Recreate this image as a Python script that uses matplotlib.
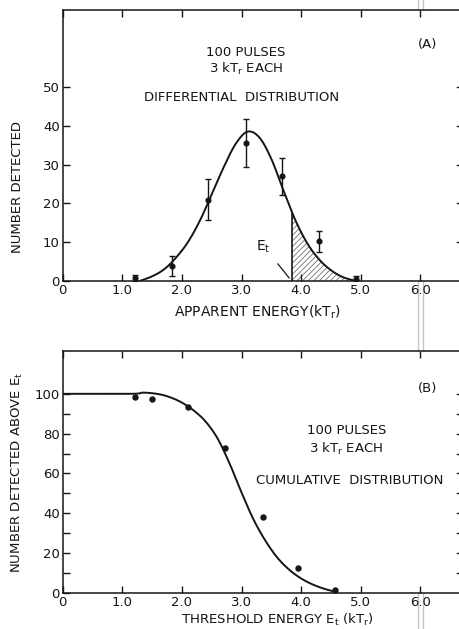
import numpy as np
import matplotlib
matplotlib.use("Agg")
import matplotlib.pyplot as plt
from matplotlib.lines import Line2D

# ---------------- data ----------------
# Panel A: differential distribution, measured points with error bars
a_x = [1.22, 1.83, 2.44, 3.07, 3.68, 4.30, 4.92]
a_y = [0.8, 3.8, 21.0, 35.5, 27.0, 10.2, 0.6]
a_err = [0.8, 2.6, 5.2, 6.2, 4.7, 2.6, 0.8]

# Panel A: fitted curve
a_curve_x = [1.29, 1.5, 1.7, 1.9, 2.1, 2.3, 2.5, 2.7, 2.9, 3.1, 3.3, 3.5, 3.7, 3.9, 4.1, 4.3, 4.5, 4.7, 4.92]
a_curve_y = [0.0, 1.2, 3.0, 6.0, 10.0, 15.5, 22.3, 29.3, 35.3, 38.5, 37.0, 31.5, 23.5, 15.8, 9.8, 5.6, 2.8, 1.0, 0.0]
threshold = 3.85

# Panel B: cumulative distribution
b_x = [1.22, 1.50, 2.10, 2.72, 3.36, 3.94, 4.57]
b_y = [98.3, 97.5, 93.5, 72.7, 38.3, 12.7, 1.5]
b_curve_x = [0.0, 1.15, 1.35, 1.6, 1.8, 2.0, 2.2, 2.4, 2.6, 2.8, 3.0, 3.2, 3.4, 3.6, 3.8, 4.0, 4.2, 4.4, 4.6]
b_curve_y = [100.0, 100.0, 100.6, 99.9, 98.3, 95.6, 91.6, 86.0, 77.5, 65.0, 50.5, 37.0, 26.3, 17.8, 11.7, 7.3, 4.2, 2.0, 0.4]

x_ticks = [0, 1, 2, 3, 4, 5, 6]
x_ticklabels = ["0", "1.0", "2.0", "3.0", "4.0", "5.0", "6.0"]
a_yticks = [0, 10, 20, 30, 40, 50]
b_yticks = [0, 20, 40, 60, 80, 100]


def smooth(xs, ys, n=24):
    """Catmull-Rom rendering of a polyline through the read points."""
    p = np.column_stack([xs, ys]).astype(float)
    p = np.vstack([p[0], p, p[-1]])
    out = []
    t = np.linspace(0, 1, n)[:, None]
    for i in range(1, len(p) - 2):
        p0, p1, p2, p3 = p[i - 1], p[i], p[i + 1], p[i + 2]
        seg = 0.5 * (2 * p1 + (-p0 + p2) * t + (2 * p0 - 5 * p1 + 4 * p2 - p3) * t ** 2
                     + (-p0 + 3 * p1 - 3 * p2 + p3) * t ** 3)
        out.append(seg if i == 1 else seg[1:])
    s = np.vstack(out)
    return s[:, 0], s[:, 1]


W, H = 459, 629
fig = plt.figure(figsize=(W / 100, H / 100), dpi=100)
plt.rcParams['font.family'] = ['DejaVu Sans']
plt.rcParams['hatch.linewidth'] = 0.6
INK = '#151515'
FS = 9.5

left_px = 62.7
ppu = 59.6
right_px = 463
xmax = (right_px - left_px) / ppu


def px_rect(l, t, r, b):
    return [l / W, 1 - b / H, (r - l) / W, (b - t) / H]


def style(ax, yticks, ymax, right_ticks):
    ax.set_xlim(0, xmax)
    ax.set_ylim(0, ymax)
    ax.set_xticks(x_ticks)
    ax.set_xticklabels(x_ticklabels)
    ax.set_yticks(yticks)
    ax.set_yticklabels([str(v) for v in yticks])
    ax.tick_params(direction='in', length=5, width=1.0, colors=INK, labelsize=FS,
                   top=True, right=False)
    ax.tick_params(axis='x', pad=2.5)
    ax.tick_params(axis='y', pad=2)
    for s in ax.spines.values():
        s.set_color(INK)
        s.set_linewidth(1.1)
    ax.spines['right'].set_visible(False)
    for v in right_ticks:
        ax.plot([xmax - 0.1, xmax], [v, v], color=INK, lw=1.0, clip_on=False)


# ---------------- Panel A ----------------
axA = fig.add_axes(px_rect(left_px, 9.5, right_px, 281))
style(axA, a_yticks, 70, [10, 20, 30, 40, 50])
cx, cy = smooth(a_curve_x, a_curve_y)
axA.plot(cx, cy, color=INK, lw=1.4)
m = cx >= threshold
yt = np.interp(threshold, cx, cy)
fx = np.concatenate([[threshold], cx[m]])
fy = np.concatenate([[yt], cy[m]])
axA.fill_between(fx, 0, fy, facecolor='none', edgecolor='#707070', hatch='//////', lw=0)
axA.plot([threshold, threshold], [0, yt], color=INK, lw=1.2)
axA.errorbar(a_x, a_y, yerr=a_err, fmt='o', ms=3.4, color=INK, ecolor=INK,
             elinewidth=1.0, capsize=2.2, capthick=1.0)
axA.annotate('', xy=(threshold - 0.02, 0.2), xytext=(3.58, 5.0),
             arrowprops=dict(arrowstyle='-', color=INK, lw=0.9))
axA.text(3.36, 8.8, r'E$_\mathregular{t}$', ha='center', va='center', fontsize=FS + 0.5, color=INK)
axA.text(3.07, 59.0, '100 PULSES', ha='center', va='center', fontsize=FS, color=INK)
axA.text(3.07, 54.8, r'3 kT$_\mathregular{r}$ EACH', ha='center', va='center', fontsize=FS, color=INK)
axA.text(3.0, 47.2, 'DIFFERENTIAL  DISTRIBUTION', ha='center', va='center', fontsize=FS, color=INK)
axA.text(6.12, 61.0, '(A)', ha='center', va='center', fontsize=FS, color=INK)
fig.text(17.5 / W, 1 - 187 / H, 'NUMBER DETECTED', rotation=90, ha='center', va='center',
         fontsize=FS, color=INK)
fig.text(257 / W, 1 - 312 / H, r'APPARENT ENERGY(kT$_\mathregular{r}$)', ha='center', va='center',
         fontsize=FS + 0.5, color=INK)

# ---------------- Panel B ----------------
axB = fig.add_axes(px_rect(left_px, 351, right_px, 593))
style(axB, b_yticks, 121.5, list(range(10, 101, 10)))
axB.set_yticks(list(range(10, 101, 20)), minor=True)
axB.tick_params(which='minor', direction='in', length=5, width=1.0, colors=INK, left=True)
bx, by = smooth(b_curve_x, b_curve_y)
axB.plot(bx, by, color=INK, lw=1.4)
axB.plot(b_x, b_y, 'o', ms=3.6, color=INK)
axB.text(4.76, 81.5, '100 PULSES', ha='center', va='center', fontsize=FS, color=INK)
axB.text(4.76, 72.3, r'3 kT$_\mathregular{r}$ EACH', ha='center', va='center', fontsize=FS, color=INK)
axB.text(4.82, 56.3, 'CUMULATIVE  DISTRIBUTION', ha='center', va='center', fontsize=FS, color=INK)
axB.text(6.12, 102.6, '(B)', ha='center', va='center', fontsize=FS, color=INK)
fig.text(17.5 / W, 1 - 472 / H, r'NUMBER DETECTED ABOVE E$_\mathregular{t}$', rotation=90,
         ha='center', va='center', fontsize=FS, color=INK)
fig.text(277 / W, 1 - 628 / H, r'THRESHOLD ENERGY E$_\mathregular{t}$ (kT$_\mathregular{r}$)',
         ha='center', va='bottom', fontsize=FS, color=INK)

# scan fold visible in the reference
for xp in (417.5, 423.0):
    fig.add_artist(Line2D([xp / W, xp / W], [0, 1], transform=fig.transFigure,
                          color='#c4c4c4', lw=1.0, zorder=0))

fig.savefig('out.png', dpi=100)
